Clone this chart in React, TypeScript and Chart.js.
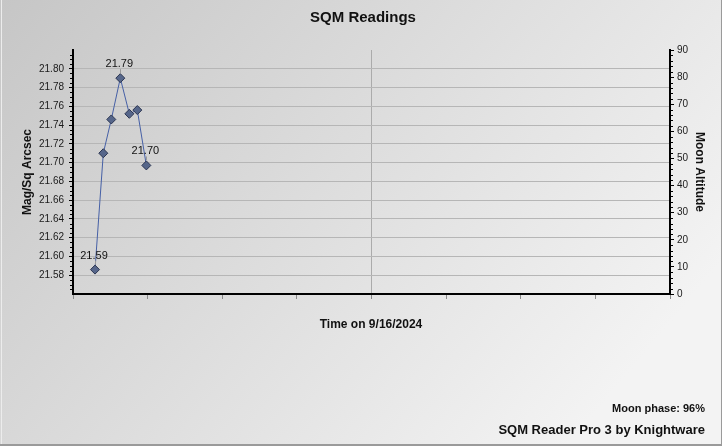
import React, { useEffect, useRef } from "react";
import { Chart, registerables } from "chart.js";

Chart.register(...registerables);

// ---- data ----
const timeSlots = [0.295, 0.406, 0.513, 0.634, 0.755, 0.862, 0.983];
const sqmValues = [21.586, 21.71, 21.746, 21.79, 21.752, 21.756, 21.697];
const leftTicks = [21.58, 21.6, 21.62, 21.64, 21.66, 21.68, 21.7, 21.72, 21.74, 21.76, 21.78, 21.8];
const rightTicks = [0, 10, 20, 30, 40, 50, 60, 70, 80, 90];
const timeTicks = [0, 1, 2, 3, 4, 5, 6, 7, 8];

const chartTitle = "SQM Readings";
const leftTitle = "Mag/Sq Arcsec";
const rightTitle = "Moon Altitude";
const xTitle = "Time on 9/16/2024";
const moonPhase = "Moon phase: 96%";
const credit = "SQM Reader Pro 3 by Knightware";

const FONT = "'Liberation Sans', Arial, sans-serif";

const decorPlugin = {
  id: "decor",
  beforeDraw(chart: any) {
    const { ctx, width, height } = chart;
    ctx.save();
    const g = ctx.createLinearGradient(0, 0, 555, 462);
    g.addColorStop(0, "#c6c6c6");
    g.addColorStop(1, "#f3f3f3");
    ctx.fillStyle = g;
    ctx.fillRect(0, 0, width, height);
    ctx.restore();
  },
  afterDatasetsDraw(chart: any) {
    const { ctx } = chart;
    const meta = chart.getDatasetMeta(0);
    let maxI = 0;
    sqmValues.forEach((v, i) => {
      if (v > sqmValues[maxI]) maxI = i;
    });
    const idx = [0, maxI, sqmValues.length - 1];
    ctx.save();
    idx.forEach((i) => {
      const pt = meta.data[i];
      ctx.strokeStyle = "#9a9a9a";
      ctx.lineWidth = 1;
      ctx.beginPath();
      ctx.moveTo(Math.round(pt.x) + 0.5, pt.y - 5);
      ctx.lineTo(Math.round(pt.x) + 0.5, pt.y - 9);
      ctx.stroke();
      ctx.fillStyle = "#111";
      ctx.font = `11px ${FONT}`;
      ctx.textAlign = "center";
      ctx.textBaseline = "middle";
      ctx.fillText(sqmValues[i].toFixed(2), pt.x - 1, pt.y - 14);
    });
    ctx.restore();
  },
  afterDraw(chart: any) {
    const { ctx, width, height, chartArea } = chart;
    const yl = chart.scales.y;
    const yr = chart.scales.y1;
    ctx.save();
    // minor ticks
    ctx.strokeStyle = "#000";
    ctx.lineWidth = 1;
    ctx.beginPath();
    for (let k = 0; k <= 52; k++) {
      if (k % 4 === 0) continue;
      const v = yl.min + k * 0.005;
      const py = Math.round(yl.getPixelForValue(v)) + 0.5;
      ctx.moveTo(chartArea.left - 3, py);
      ctx.lineTo(chartArea.left - 1, py);
    }
    for (let v = 0; v <= 90; v += 2) {
      if (v % 10 === 0) continue;
      const py = Math.round(yr.getPixelForValue(v)) + 0.5;
      ctx.moveTo(chartArea.right + 1, py);
      ctx.lineTo(chartArea.right + 3, py);
    }
    ctx.stroke();

    // texts
    ctx.fillStyle = "#111";
    ctx.textBaseline = "middle";
    ctx.textAlign = "center";
    ctx.font = `bold 15px ${FONT}`;
    ctx.fillText(chartTitle, 363, 18);

    ctx.font = `bold 12px ${FONT}`;
    ctx.fillText(xTitle, 371, 325);

    const midY = (chartArea.top + chartArea.bottom) / 2;
    ctx.save();
    ctx.translate(27.5, midY);
    ctx.rotate(-Math.PI / 2);
    ctx.fillText(leftTitle, 0, 0);
    ctx.restore();

    ctx.save();
    ctx.translate(699, midY);
    ctx.rotate(Math.PI / 2);
    ctx.fillText(rightTitle, 0, 0);
    ctx.restore();

    ctx.textAlign = "right";
    ctx.font = `bold 11px ${FONT}`;
    ctx.fillText(moonPhase, 705, 409);
    ctx.font = `bold 13px ${FONT}`;
    ctx.fillText(credit, 705, 430);

    // frame
    ctx.strokeStyle = "#9a9a9a";
    ctx.lineWidth = 1;
    ctx.beginPath();
    ctx.moveTo(width - 0.5, 0);
    ctx.lineTo(width - 0.5, height);
    ctx.stroke();
    ctx.lineWidth = 2;
    ctx.beginPath();
    ctx.moveTo(0, height - 1);
    ctx.lineTo(width, height - 1);
    ctx.stroke();
    ctx.strokeStyle = "#ececec";
    ctx.lineWidth = 1;
    ctx.beginPath();
    ctx.moveTo(1.5, 0);
    ctx.lineTo(1.5, height - 2);
    ctx.stroke();
    ctx.restore();
  },
};

export default function App() {
  const ref = useRef<HTMLCanvasElement | null>(null);

  useEffect(() => {
    if (!ref.current) return;
    const chart = new Chart(ref.current, {
      type: "line",
      data: {
        datasets: [
          {
            data: timeSlots.map((t, i) => ({ x: t, y: sqmValues[i] })),
            borderColor: "#4660a6",
            borderWidth: 1,
            pointStyle: "rectRot",
            pointRadius: 4.5,
            pointBackgroundColor: "#56668a",
            pointBorderColor: "#2c3652",
            pointBorderWidth: 1,
            tension: 0,
            yAxisID: "y",
          },
        ],
      },
      options: {
        responsive: false,
        animation: false,
        devicePixelRatio: 1,
        layout: { padding: { top: 50, left: 0, right: 0, bottom: 0 } },
        plugins: {
          legend: { display: false },
          tooltip: { enabled: false },
          title: { display: false },
        },
        scales: {
          x: {
            type: "linear",
            min: 0,
            max: 8,
            afterBuildTicks: (s: any) => {
              s.ticks = timeTicks.map((v) => ({ value: v }));
            },
            afterFit: (s: any) => {
              s.height = 152;
            },
            ticks: { callback: () => "", padding: 0 },
            grid: {
              color: (c: any) => (c.tick && c.tick.value === 4 ? "#ababab" : "rgba(0,0,0,0)"),
              tickColor: "#8a8a8a",
              tickLength: 5,
              lineWidth: 1,
            },
            border: { color: "#000", width: 2 },
          },
          y: {
            type: "linear",
            position: "left",
            min: 21.56,
            max: 21.82,
            afterBuildTicks: (s: any) => {
              s.ticks = leftTicks.map((v) => ({ value: v }));
            },
            afterFit: (s: any) => {
              s.width = 73;
            },
            ticks: {
              callback: (v: any) => Number(v).toFixed(2),
              color: "#1a1a1a",
              font: { family: FONT, size: 10 },
              padding: 5,
            },
            grid: {
              color: "#b6b6b6",
              tickColor: "#000",
              tickLength: 4,
              lineWidth: 1,
            },
            border: { color: "#000", width: 2 },
          },
          y1: {
            type: "linear",
            position: "right",
            min: 0,
            max: 90,
            afterBuildTicks: (s: any) => {
              s.ticks = rightTicks.map((v) => ({ value: v }));
            },
            afterFit: (s: any) => {
              s.width = 52;
            },
            ticks: {
              color: "#1a1a1a",
              font: { family: FONT, size: 10 },
              padding: 3,
            },
            grid: {
              drawOnChartArea: false,
              tickColor: "#000",
              tickLength: 4,
            },
            border: { color: "#000", width: 2 },
          },
        },
      },
      plugins: [decorPlugin],
    } as any);
    return () => chart.destroy();
  }, []);

  return (
    <div style={{ position: "absolute", left: 0, top: 0, width: 722, height: 446 }}>
      <canvas ref={ref} width={722} height={446} />
    </div>
  );
}
